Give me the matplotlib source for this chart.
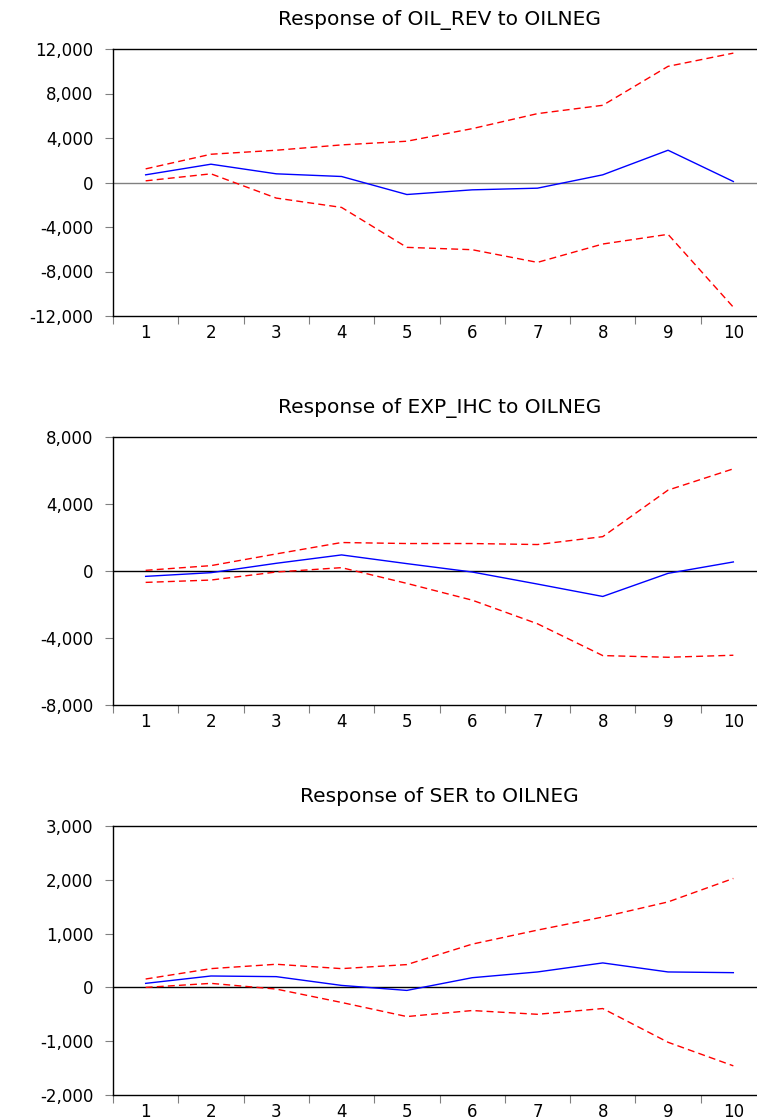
import numpy as np
import matplotlib
matplotlib.use("Agg")
import matplotlib.pyplot as plt

plt.rcParams["font.family"] = ["DejaVu Sans"]

periods = np.arange(1, 11)
shock = "OILNEG"

# impulse responses with +/- 2 s.e. bands
oil_rev = [690, 1645, 780, 540, -1080, -660, -510, 690, 2900, 90]
oil_rev_hi = [1225, 2540, 2900, 3380, 3710, 4840, 6190, 6940, 10440, 11630]
oil_rev_lo = [150, 780, -1400, -2240, -5830, -6040, -7180, -5530, -4660, -11210]

exp_ihc = [-320, -100, 460, 960, 440, -60, -780, -1520, -140, 540]
exp_ihc_hi = [40, 320, 1020, 1700, 1640, 1640, 1580, 2050, 4830, 6100]
exp_ihc_lo = [-680, -540, -60, 200, -740, -1740, -3150, -5050, -5150, -5030]

ser = [75, 212, 200, 37, -56, 180, 287, 455, 287, 274]
ser_hi = [156, 349, 430, 349, 424, 804, 1065, 1308, 1589, 2025]
ser_lo = [0, 75, -31, -280, -542, -430, -500, -393, -1020, -1458]

panels = [
    ("OIL_REV", oil_rev, oil_rev_hi, oil_rev_lo, [-12000, -8000, -4000, 0, 4000, 8000, 12000], "#808080"),
    ("EXP_IHC", exp_ihc, exp_ihc_hi, exp_ihc_lo, [-8000, -4000, 0, 4000, 8000], "black"),
    ("SER", ser, ser_hi, ser_lo, [-2000, -1000, 0, 1000, 2000, 3000], "black"),
]

W, H = 757, 1120
fig = plt.figure(figsize=(W / 100, H / 100), dpi=100)

# axes boxes in pixels: (top, bottom); left edge and width shared
boxes = [(49, 316), (437, 705), (826, 1095)]
left, right = 113, 766

for (name, resp, hi, lo, yt, zc), (top, bot) in zip(panels, boxes):
    ax = fig.add_axes([left / W, 1 - bot / H, (right - left) / W, (bot - top) / H])
    ax.plot(periods, resp, color="#0000FF", lw=1.0)
    ax.plot(periods, hi, color="#FF0000", lw=1.0, dashes=(5, 3))
    ax.plot(periods, lo, color="#FF0000", lw=1.0, dashes=(5, 3))
    ax.axhline(0, color=zc, lw=1.0, zorder=0)

    ax.set_xlim(0.5, 10.5)
    ax.set_ylim(yt[0], yt[-1])
    ax.set_yticks(yt)
    ax.set_yticklabels([f"{v:,}" for v in yt])

    # ticks sit between periods, labels centred on them
    ax.set_xticks(np.arange(0.5, 11, 1))
    ax.set_xticklabels([])
    ax.set_xticks(periods, minor=True)
    ax.set_xticklabels([str(p) for p in periods], minor=True)
    ax.tick_params(axis="x", which="major", direction="out", length=6, color="#808080")
    ax.tick_params(axis="x", which="minor", length=0, pad=6, labelsize=12)
    ax.tick_params(axis="y", direction="out", length=6, color="#808080", pad=8, labelsize=12)

    for s in ax.spines.values():
        s.set_linewidth(1.0)
        s.set_color("black")

    ax.set_title(f"Response of {name} to {shock}", fontsize=14.5, pad=17)

fig.savefig("out.png", dpi=100)
